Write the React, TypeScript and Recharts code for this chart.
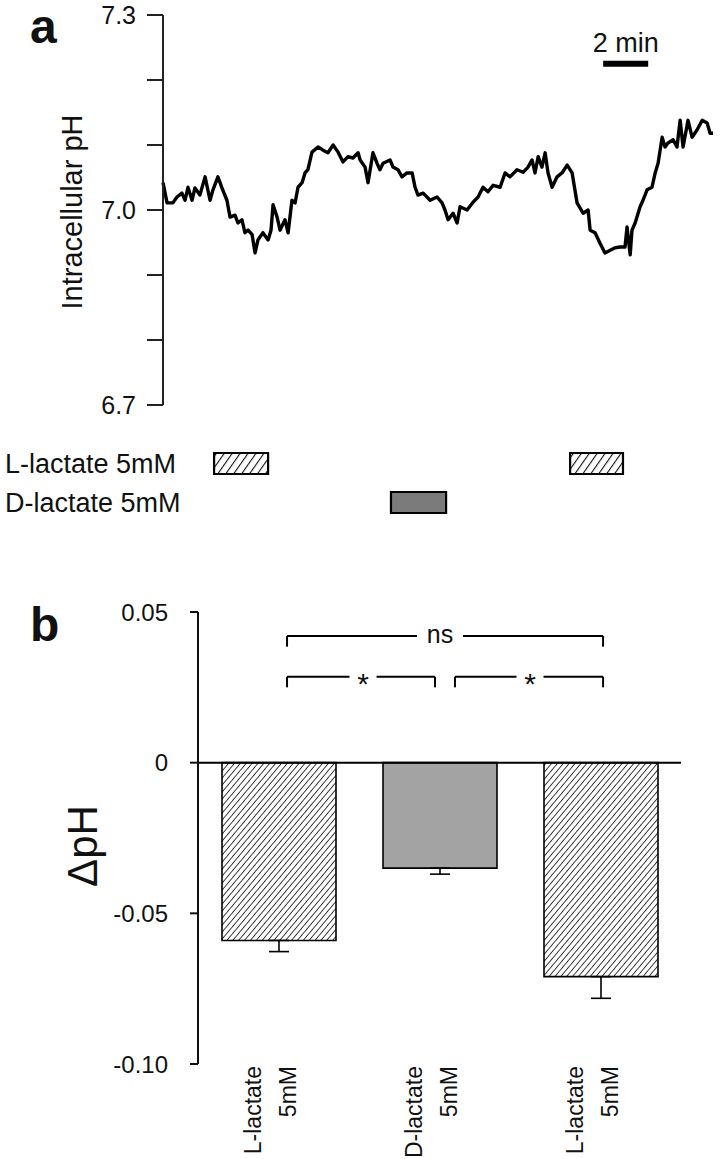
import { LineChart, Line, BarChart, Bar, XAxis, YAxis, Cell, ErrorBar, ReferenceLine, ReferenceDot } from 'recharts'

const FONT = '"Liberation Sans", Arial, Helvetica, sans-serif'
const INK = '#111'

// panel a: intracellular pH trace (time in min)
const traceTime = [
    0.00, 0.18, 0.44, 0.62, 0.84, 0.98, 1.11, 1.29, 1.42, 1.64, 1.87, 2.09, 2.22, 2.44, 2.62, 2.84,
    2.98, 3.20, 3.33, 3.51, 3.64, 3.78, 3.96, 4.09, 4.22, 4.44, 4.67, 4.80, 4.89, 5.07, 5.20, 5.42,
    5.56, 5.73, 5.87, 6.00, 6.18, 6.31, 6.44, 6.62, 6.89, 7.11, 7.33, 7.56, 7.78, 8.00, 8.22, 8.44,
    8.67, 8.76, 8.98, 9.11, 9.33, 9.51, 9.64, 9.78, 10.09, 10.22, 10.44, 10.62, 10.84, 11.07, 11.20,
    11.33, 11.56, 11.87, 12.18, 12.40, 12.53, 12.67, 12.89, 13.07, 13.20, 13.51, 13.78, 14.00, 14.22,
    14.44, 14.67, 14.98, 15.20, 15.42, 15.73, 16.00, 16.22, 16.40, 16.53, 16.67, 16.84, 16.98, 17.11,
    17.29, 17.51, 17.73, 17.96, 18.18, 18.40, 18.67, 18.89, 18.98, 19.20, 19.42, 19.64, 19.87, 20.09,
    20.31, 20.53, 20.62, 20.76, 20.84, 20.98, 21.20, 21.33, 21.51, 21.73, 21.87, 22.00, 22.18, 22.31,
    22.44, 22.67, 22.84, 22.98, 23.11, 23.33, 23.51, 23.73, 23.96, 24.18, 24.31, 24.44,
]
const tracePH = [
    7.042, 7.011, 7.011, 7.020, 7.026, 7.015, 7.035, 7.015, 7.034, 7.023, 7.051, 7.015, 7.031, 7.051, 7.034, 7.015,
    6.989, 6.992, 6.980, 6.985, 6.965, 6.969, 6.962, 6.934, 6.954, 6.965, 6.954, 6.969, 7.008, 6.989, 6.969, 6.985,
    6.965, 7.015, 7.011, 7.035, 7.042, 7.057, 7.062, 7.089, 7.097, 7.092, 7.088, 7.100, 7.089, 7.074, 7.082, 7.080,
    7.088, 7.077, 7.066, 7.042, 7.088, 7.072, 7.062, 7.072, 7.077, 7.066, 7.062, 7.051, 7.057, 7.057, 7.035,
    7.023, 7.026, 7.015, 7.020, 7.011, 7.000, 6.985, 6.995, 6.980, 7.005, 7.000, 7.012, 7.020, 7.035,
    7.028, 7.038, 7.035, 7.057, 7.051, 7.062, 7.058, 7.066, 7.077, 7.057, 7.082, 7.066, 7.088, 7.057,
    7.035, 7.051, 7.057, 7.069, 7.057, 7.011, 6.995, 7.000, 6.969, 6.965, 6.949, 6.934, 6.938, 6.942,
    6.943, 6.943, 6.974, 6.931, 6.969, 6.980, 7.005, 7.015, 7.031, 7.035, 7.057, 7.072, 7.112, 7.097,
    7.103, 7.108, 7.097, 7.138, 7.097, 7.138, 7.112, 7.123, 7.138, 7.134, 7.118, 7.118,
]
const traceEnd = 24.44
const phTicks = [6.7, 6.8, 6.9, 7.0, 7.1, 7.2, 7.3]
const phLabelled = [6.7, 7.0, 7.3]

// scale bar
const scaleBarStart = 19.56
const scaleBarMinutes = 2
const scaleBarPH = 7.225

// application periods (min)
const periodLabels = ['L-lactate 5mM', 'D-lactate 5mM']
const periodStarts = [[2.27, 18.09], [10.13]]
const periodEnds = [[4.67, 20.44], [12.58]]

// panel b: mean ΔpH ± s.e.m.
const groups = ['L-lactate 5mM', 'D-lactate 5mM', 'L-lactate 5mM']
const groupPos = [0.5, 1.5, 2.5]
const deltaPH = [-0.059, -0.035, -0.071]
const deltaErr = [0.0037, 0.002, 0.0072]
const dTicks = [-0.1, -0.05, 0, 0.05]
const dTickLabels = ['-0.10', '-0.05', '0', '0.05']

// significance brackets
const bracketFrom = [0.553, 0.553, 1.596]
const bracketTo = [2.516, 1.472, 2.516]
const bracketY = [0.042, 0.0285, 0.0285]
const bracketText = ['ns', '*', '*']
const bracketTextX = [1.503, 1.025, 2.062]
const bracketGap = [0.143, 0.084, 0.084]
const bracketDrop = 0.0035

const traceData = traceTime.map((t, i) => ({ t, ph: tracePH[i] }))

const periodData = periodLabels.map((label, i) => {
    const s = periodStarts[i]
    const e = periodEnds[i]
    return {
        label,
        off1: s[0],
        on1: e[0] - s[0],
        off2: s.length > 1 ? s[1] - e[0] : 0,
        on2: s.length > 1 ? e[1] - s[1] : 0,
    }
})

const barData = groups.map((g, i) => ({ pos: groupPos[i], dph: deltaPH[i], err: [deltaErr[i], 0], group: g }))

const isL = (label: string) => label.startsWith('L')

const AxisTitle = (props: any) => {
    const { viewBox, text, dx, dy, size } = props
    const cx = viewBox.x + dx
    const cy = viewBox.y + viewBox.height / 2 + dy
    return (
        <text x={cx} y={cy} transform={`rotate(-90 ${cx} ${cy})`} textAnchor="middle" dominantBaseline="central"
            fontFamily={FONT} fontSize={size} fill={INK}>
            {text}
        </text>
    )
}

const RowTick = (props: any) => {
    const { y, payload } = props
    return (
        <text x={5} y={y} dominantBaseline="central" fontFamily={FONT} fontSize={27} fill={INK}>
            {payload.value}
        </text>
    )
}

const GroupTick = (props: any) => {
    const { x, y, payload } = props
    const idx = groupPos.indexOf(payload.value)
    if (idx < 0) return null
    const [l1, l2] = groups[idx].split(' ')
    const x1 = x - 18
    const x2 = x + 17
    return (
        <g fontFamily={FONT} fontSize={23} fill={INK}>
            <text x={x1} y={y} transform={`rotate(-90 ${x1} ${y})`} textAnchor="end">{l1}</text>
            <text x={x2} y={y} transform={`rotate(-90 ${x2} ${y})`} textAnchor="end">{l2}</text>
        </g>
    )
}

const bracketLabel = (i: number) => (props: any) => {
    const { viewBox } = props
    const star = bracketText[i] === '*'
    return (
        <text x={viewBox.x} y={viewBox.y} dy={star ? 17 : 7} textAnchor="middle"
            fontFamily={FONT} fontSize={star ? 30 : 25} fill={INK}>
            {bracketText[i]}
        </text>
    )
}

const letterStyle = (top: number): React.CSSProperties => ({
    position: 'absolute', left: 30, top, fontFamily: FONT, fontWeight: 700, fontSize: 48, lineHeight: '34px', color: INK,
})

export default function App() {
    return (
        <div style={{ position: 'absolute', left: 0, top: 0, width: 720, height: 1159, background: '#fff', overflow: 'hidden' }}>
            <div style={letterStyle(10)}>a</div>
            <div style={letterStyle(608)}>b</div>

            <div style={{ position: 'absolute', left: 0, top: 0 }}>
                <LineChart width={720} height={420} data={traceData} margin={{ top: 15, right: 7, bottom: 15, left: 63 }}>
                    <XAxis dataKey="t" type="number" domain={[0, traceEnd]} hide />
                    <YAxis
                        domain={[6.7, 7.3]}
                        ticks={phTicks}
                        width={100}
                        tickSize={16}
                        tickMargin={11}
                        interval={0}
                        stroke="#222"
                        strokeWidth={2}
                        tick={{ fill: INK, fontSize: 25, fontFamily: FONT }}
                        tickFormatter={(v: number) => (phLabelled.some((p) => Math.abs(p - v) < 1e-6) ? v.toFixed(1) : '')}
                        label={{ content: (p: any) => <AxisTitle {...p} text="Intracellular pH" dx={9} dy={2} size={29} /> }}
                    />
                    <ReferenceLine
                        segment={[{ x: scaleBarStart, y: scaleBarPH }, { x: scaleBarStart + scaleBarMinutes, y: scaleBarPH }]}
                        stroke="#000"
                        strokeWidth={6}
                        label={{ value: '2 min', position: 'top', offset: 12, fill: INK, fontSize: 27, fontFamily: FONT }}
                    />
                    <Line dataKey="ph" type="linear" stroke="#000" strokeWidth={3.4} strokeLinejoin="round" dot={false} isAnimationActive={false} />
                </LineChart>
            </div>

            <div style={{ position: 'absolute', left: 0, top: 444 }}>
                <BarChart width={720} height={78} data={periodData} layout="vertical" margin={{ top: 0, right: 7, bottom: 0, left: 0 }} barSize={21}>
                    <defs>
                        <pattern id="hatchA" width={6.5} height={6.5} patternUnits="userSpaceOnUse" patternTransform="rotate(35)">
                            <rect width={6.5} height={6.5} fill="#fff" />
                            <line x1={0} y1={0} x2={0} y2={6.5} stroke="#111" strokeWidth={2.2} />
                        </pattern>
                    </defs>
                    <XAxis type="number" domain={[0, traceEnd]} allowDataOverflow hide />
                    <YAxis type="category" dataKey="label" width={163} axisLine={false} tickLine={false} tick={<RowTick />} />
                    <Bar dataKey="off1" stackId="p" fill="none" isAnimationActive={false} />
                    <Bar dataKey="on1" stackId="p" stroke="#000" strokeWidth={2.2} isAnimationActive={false}>
                        {periodData.map((d) => <Cell key={d.label} fill={isL(d.label) ? 'url(#hatchA)' : '#7b7b7b'} />)}
                    </Bar>
                    <Bar dataKey="off2" stackId="p" fill="none" isAnimationActive={false} />
                    <Bar dataKey="on2" stackId="p" stroke="#000" strokeWidth={2.2} isAnimationActive={false}>
                        {periodData.map((d) => <Cell key={d.label} fill={isL(d.label) ? 'url(#hatchA)' : '#7b7b7b'} />)}
                    </Bar>
                </BarChart>
            </div>

            <div style={{ position: 'absolute', left: 0, top: 580 }}>
                <BarChart width={720} height={580} data={barData} margin={{ top: 32, right: 39, bottom: 6, left: 98 }}>
                    <defs>
                        <pattern id="hatchB" width={4.5} height={4.5} patternUnits="userSpaceOnUse" patternTransform="rotate(40)">
                            <rect width={4.5} height={4.5} fill="#fff" />
                            <line x1={0} y1={0} x2={0} y2={4.5} stroke="#000" strokeWidth={1.5} />
                        </pattern>
                    </defs>
                    <XAxis
                        dataKey="pos"
                        type="number"
                        domain={[0, 3]}
                        ticks={groupPos}
                        height={90}
                        axisLine={false}
                        tickLine={false}
                        tickSize={0}
                        tickMargin={2}
                        interval={0}
                        tick={<GroupTick />}
                    />
                    <YAxis
                        domain={[-0.1, 0.05]}
                        ticks={dTicks}
                        width={100}
                        tickSize={8}
                        tickMargin={22}
                        interval={0}
                        stroke="#111"
                        strokeWidth={2}
                        tick={{ fill: INK, fontSize: 24, fontFamily: FONT }}
                        tickFormatter={(v: number) => dTickLabels[dTicks.findIndex((t) => Math.abs(t - v) < 1e-9)] ?? ''}
                        label={{ content: (p: any) => <AxisTitle {...p} text="ΔpH" dx={-16} dy={8} size={42} /> }}
                    />
                    <Bar dataKey="dph" barSize={114} stroke="#000" strokeWidth={1.6} isAnimationActive={false}>
                        {barData.map((d, i) => <Cell key={i} fill={isL(d.group) ? 'url(#hatchB)' : '#a3a3a3'} />)}
                        <ErrorBar dataKey="err" direction="y" width={10} stroke="#000" strokeWidth={1.6} />
                    </Bar>
                    <ReferenceLine y={0} stroke="#000" strokeWidth={2} />
                    {bracketText.map((_, i) => {
                        const y = bracketY[i]
                        const yd = y - bracketDrop
                        const col = { stroke: '#000', strokeWidth: 2 }
                        return [
                            <ReferenceLine key={`l${i}`} segment={[{ x: bracketFrom[i], y }, { x: bracketTextX[i] - bracketGap[i], y }]} {...col} />,
                            <ReferenceLine key={`r${i}`} segment={[{ x: bracketTextX[i] + bracketGap[i], y }, { x: bracketTo[i], y }]} {...col} />,
                            <ReferenceLine key={`a${i}`} segment={[{ x: bracketFrom[i], y }, { x: bracketFrom[i], y: yd }]} {...col} />,
                            <ReferenceLine key={`b${i}`} segment={[{ x: bracketTo[i], y }, { x: bracketTo[i], y: yd }]} {...col} />,
                            <ReferenceDot key={`t${i}`} x={bracketTextX[i]} y={y} r={0} fill="none" stroke="none" label={bracketLabel(i)} />,
                        ]
                    })}
                </BarChart>
            </div>
        </div>
    )
}
